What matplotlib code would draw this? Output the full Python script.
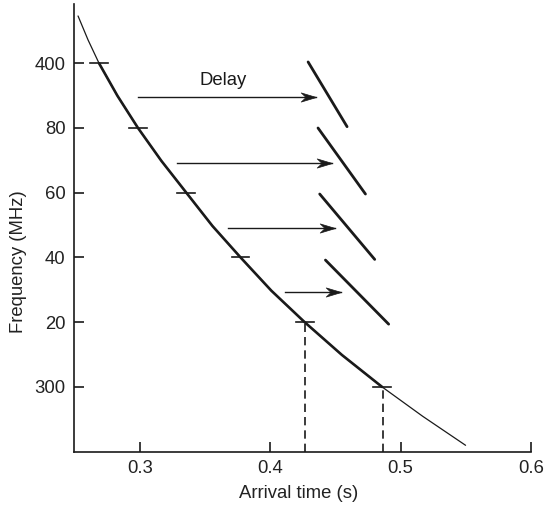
import matplotlib
matplotlib.use("Agg")
import matplotlib.pyplot as plt
from matplotlib.path import Path

plt.rcParams['font.family'] = ['Liberation Sans', 'DejaVu Sans']

# ---- data ----
ytick_pos = [1, 2, 3, 4, 5, 6]
ytick_labels = ['300', '20', '40', '60', '80', '400']
xticks = [0.3, 0.4, 0.5, 0.6]
xtick_labels = ['0.3', '0.4', '0.5', '0.6']

curve_time = [0.2525, 0.2602, 0.2686, 0.2827, 0.2985, 0.3164, 0.3356, 0.3556,
              0.3772, 0.4008, 0.4264, 0.4549, 0.4858, 0.5169, 0.5498]
curve_pos = [6.730, 6.359, 6.0, 5.498, 5.0, 4.493, 4.0, 3.487,
             3.0, 2.487, 2.0, 1.495, 1.0, 0.547, 0.099]

mark_time = [0.2686, 0.2985, 0.3356, 0.3772, 0.4264, 0.4858]
mark_pos = [6, 5, 4, 3, 2, 1]

dashed_time = [0.4264, 0.4866]
dashed_pos = [2, 1]

seg_t0 = [0.4290, 0.4366, 0.4379, 0.4423]
seg_p0 = [6.02, 5.00, 3.98, 2.96]
seg_t1 = [0.4589, 0.4730, 0.4801, 0.4908]
seg_p1 = [5.02, 3.98, 2.97, 1.97]

arrow_pos = [5.48, 4.46, 3.457, 2.468]
arrow_t0 = [0.2982, 0.3286, 0.3674, 0.4111]
arrow_t1 = [0.4354, 0.4474, 0.4494, 0.4546]

delay_label = "Delay"
delay_t, delay_p = 0.3640, 5.74

# ---- figure ----
fig = plt.figure(figsize=(5.44, 5.09), dpi=100)
ax = fig.add_axes([74/544, 1-451.7/509, (531-74)/544, (451.7-4)/509])
ax.set_xlim(0.2494, 0.6)
ax.set_ylim(0, 6.915)

ink = '#1a1a1a'
FS = 13.3

# thin full curve
ax.plot(curve_time, curve_pos, color=ink, lw=0.9, solid_capstyle='round',
        solid_joinstyle='round')
# thick part between the 400 and 300 markers
i0 = curve_pos.index(6.0)
i1 = curve_pos.index(1.0)
ax.plot(curve_time[i0:i1+1], curve_pos[i0:i1+1], color=ink, lw=1.9,
        solid_capstyle='round', solid_joinstyle='round')

# small horizontal markers on the curve
hw = 0.0068
for t, p in zip(mark_time, mark_pos):
    ax.plot([t - hw, t + hw], [p, p], color=ink, lw=1.2)

# dashed drops
for t, p in zip(dashed_time, dashed_pos):
    ax.plot([t, t], [0, p], color=ink, lw=1.2, linestyle=(0, (5, 3)))

# delayed short segments
for a, b, c, d in zip(seg_t0, seg_p0, seg_t1, seg_p1):
    ax.plot([a, c], [b, d], color=ink, lw=2.0, solid_capstyle='round')

# stealth-style arrow head marker (tip at origin)
head = Path([(0, 0), (-1, 0.3), (-0.68, 0), (-1, -0.3), (0, 0)],
            [Path.MOVETO, Path.LINETO, Path.LINETO, Path.LINETO, Path.CLOSEPOLY])

# arrows
for p, a, b in zip(arrow_pos, arrow_t0, arrow_t1):
    ax.plot([a, b], [p, p], color=ink, lw=1.0)
    ax.plot([b], [p], marker=head, markersize=22, color=ink, markeredgewidth=0.5,
            linestyle='none')

ax.text(delay_t, delay_p, delay_label, ha='center', va='center', fontsize=FS, color=ink)

# axes styling
for s in ['top', 'right']:
    ax.spines[s].set_visible(False)
for s in ['left', 'bottom']:
    ax.spines[s].set_linewidth(1.2)
    ax.spines[s].set_color(ink)

ax.set_xticks(xticks)
ax.set_xticklabels(xtick_labels)
ax.set_yticks(ytick_pos)
ax.set_yticklabels(ytick_labels)
ax.tick_params(axis='both', direction='in', length=7, width=1.2, colors=ink,
               labelsize=FS, labelcolor='#222222')
ax.tick_params(axis='x', pad=6)
ax.tick_params(axis='y', pad=6)

fig.text(299/544, 1-493/509, "Arrival time (s)", ha='center', va='center',
         fontsize=FS, color='#222222')
fig.text(19/544, 1-262/509, "Frequency (MHz)", ha='center', va='center',
         rotation=90, fontsize=FS, color='#222222')

fig.savefig("out.png", dpi=100)
